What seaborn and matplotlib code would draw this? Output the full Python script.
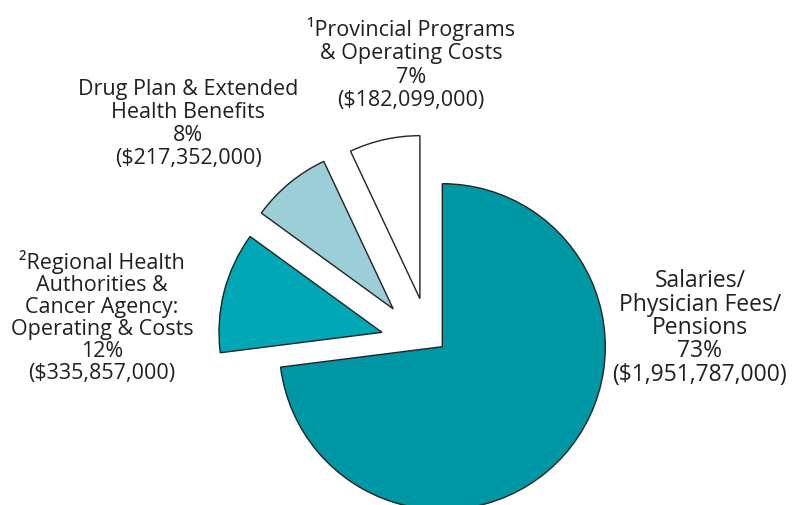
import matplotlib
matplotlib.use("Agg")
import matplotlib.pyplot as plt
import seaborn as sns
import numpy as np

categories = ["Salaries/\nPhysician Fees/\nPensions",
              "\u00b2Regional Health\nAuthorities &\nCancer Agency:\nOperating & Costs",
              "Drug Plan & Extended\nHealth Benefits",
              "\u00b9Provincial Programs\n& Operating Costs"]
percents = [73, 12, 8, 7]
amounts = ["$1,951,787,000", "$335,857,000", "$217,352,000", "$182,099,000"]
colors = ["#0097A4", "#00A8B5", "#9CCED8", "#FFFFFF"]

sns.set_theme(style="white")
plt.rcParams["font.family"] = ["Open Sans", "DejaVu Sans"]

W, H = 793, 506
fig = plt.figure(figsize=(W / 100, H / 100), dpi=100)
ax = fig.add_axes([0, 0, 1, 1])

cx, cy, R = 442.3, H - 347.7, 163
wedges, _ = ax.pie(percents, colors=colors, startangle=90, counterclock=False,
                   center=(cx, cy), radius=R,
                   wedgeprops=dict(edgecolor="#222222", linewidth=1.0))

# pull-out of the smaller slices (distance, direction tweak in degrees)
pull_dist = [0.0, 62.0, 62.0, 53.0]
pull_rot = [0.0, 1.0, 12.8, 12.4]
for w, d, rot in zip(wedges, pull_dist, pull_rot):
    ang = np.deg2rad((w.theta1 + w.theta2) / 2 + rot)
    w.set_center((cx + d * np.cos(ang), cy + d * np.sin(ang)))

ax.set_xlim(0, W)
ax.set_ylim(0, H)
ax.set_aspect("equal")
ax.axis("off")

label_pos = [(700, 328), (102, 317), (188, 124), (411, 64)]
label_size = [16.5, 15.5, 15.5, 15.5]
label_ls = [0.97, 1.06, 1.13, 1.13]
for cat, p, amt, (lx, ly), fs, ls in zip(categories, percents, amounts,
                                         label_pos, label_size, label_ls):
    ax.text(lx, H - ly, f"{cat}\n{p}%\n({amt})", ha="center", va="center",
            fontsize=fs, color="#231F20", linespacing=ls)

fig.savefig("out.png", dpi=100)
